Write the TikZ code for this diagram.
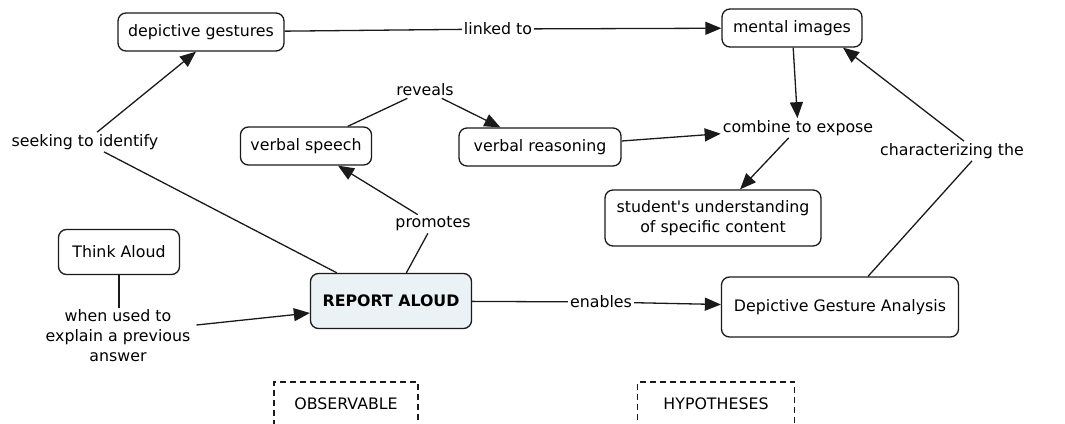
\documentclass[tikz,border=0pt]{standalone}
\usepackage{fontspec}
\setmainfont{DejaVu Sans}
\usetikzlibrary{arrows.meta}

\definecolor{linegray}{HTML}{1A1A1A}
\definecolor{reportfill}{HTML}{EAF2F6}

\tikzset{
    concept/.style={draw=linegray, line width=1.3pt, rounded corners=8pt,
        inner xsep=10pt, minimum height=38pt, align=center,
        font=\fontsize{15.8}{20}\selectfont},
    linklabel/.style={inner sep=2pt, align=center,
        font=\fontsize{15.8}{20}\selectfont},
    realm/.style={draw=linegray, line width=1.1pt, dash pattern=on 6pt off 4pt,
        font=\fontsize{15.8}{20}\selectfont},
    conn/.style={draw=linegray, line width=1.3pt},
    tip/.style={conn, -{Triangle[length=16pt, width=13pt]}}
}

\begin{document}
\begin{tikzpicture}[x=1pt, y=-1pt]
        \useasboundingbox (0,0) rectangle (1065,423);

        % concepts
        \node[concept, minimum width=166pt] (depictive) at (201,32) {depictive gestures};
        \node[concept, minimum width=140pt] (mental) at (792,28) {mental images};
        \node[concept, minimum width=131pt] (speech) at (306,146) {verbal speech};
        \node[concept, minimum width=162pt] (reasoning) at (540,147) {verbal reasoning};
        \node[concept, minimum width=216pt, minimum height=56pt] (understanding) at (713,218)
            {student\textquotesingle s understanding\\of specific content};
        \node[concept, minimum width=121pt, minimum height=45pt] (think) at (119,252) {Think Aloud};
        \node[concept, minimum width=161pt, minimum height=55pt, fill=reportfill,
            font=\fontsize{15.8}{20}\selectfont\bfseries] (report) at (391,301) {REPORT ALOUD};
        \node[concept, minimum width=237pt, minimum height=60pt] (analysis) at (840,307)
            {Depictive Gesture Analysis};

        % linking phrases
        \node[linklabel] (linked) at (498,29) {linked to};
        \node[linklabel] (reveals) at (425,90) {reveals};
        \node[linklabel] (seeking) at (85,142) {seeking to identify};
        \node[linklabel] (combine) at (798,128) {combine to expose};
        \node[linklabel] (characterizing) at (952,151) {characterizing the};
        \node[linklabel] (promotes) at (433,224) {promotes};
        \node[linklabel] (whenused) at (118,336) {when used to\\explain a previous\\answer};
        \node[linklabel] (enables) at (601,302) {enables};

        % realms (bottom edge runs off the page)
        \node[realm, minimum width=144pt, minimum height=44pt] (observable) at (346,404) {OBSERVABLE};
        \node[realm, minimum width=157pt, minimum height=44pt] (hypotheses) at (716,404) {HYPOTHESES};

        % connectors
        \draw[conn] (depictive) -- (linked);
        \draw[tip] (linked) -- (mental);

        \draw[conn] (reveals) -- (speech);
        \draw[tip] (reveals) -- (reasoning);

        \draw[conn] (report) -- (seeking);
        \draw[tip] (seeking) -- ([xshift=-5pt]depictive.south);

        \draw[conn] (report) -- (promotes);
        \draw[tip] (promotes) -- (speech);

        \draw[conn] (think.south) -- (think.south |- whenused.north);
        \draw[tip] ([xshift=4pt, yshift=11pt]whenused.east) -- ([yshift=-12pt]report.west);

        \draw[conn] (report) -- (enables);
        \draw[tip] (enables) -- (analysis);

        \draw[conn] ([xshift=28pt]analysis.north) -- ([xshift=20pt]characterizing.south);
        \draw[tip] ([xshift=12pt]characterizing.north) -- ([xshift=51pt]mental.south);

        \draw[tip] (mental) -- (combine);
        \draw[tip] (reasoning) -- (combine);
        \draw[tip] (combine) -- (understanding);

    \end{tikzpicture}
\end{document}
